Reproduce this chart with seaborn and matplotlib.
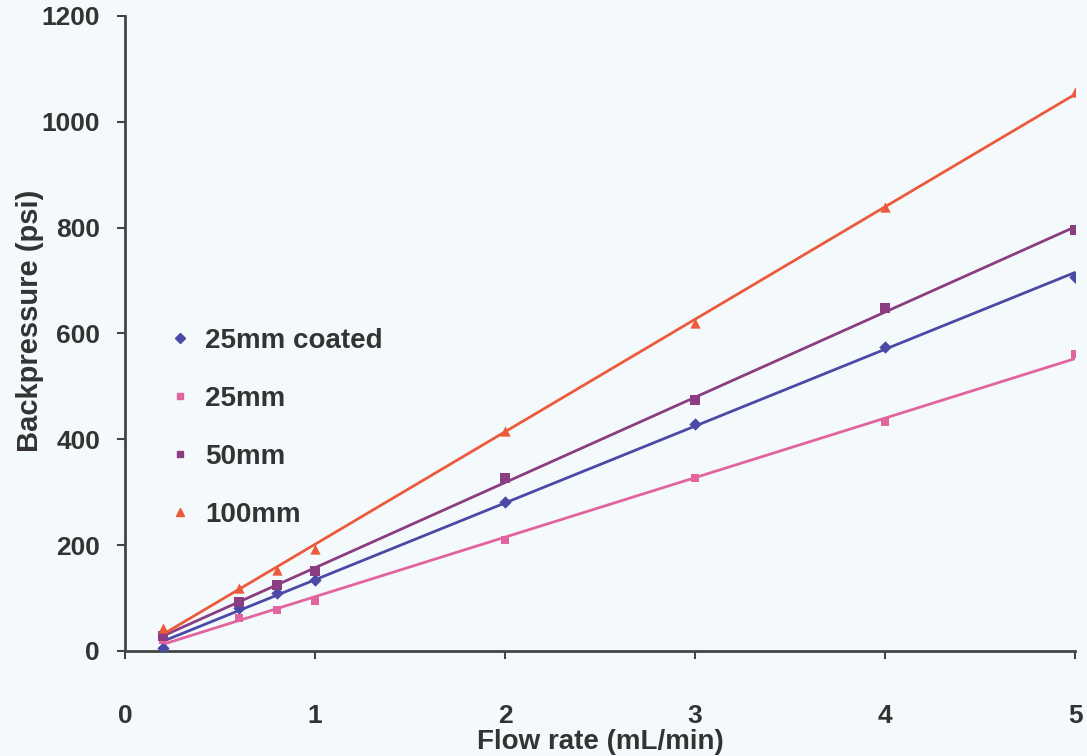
import numpy as np
import pandas as pd
import matplotlib
matplotlib.use("Agg")
import matplotlib.pyplot as plt
import seaborn as sns

flow = [0.2, 0.6, 0.8, 1, 2, 3, 4, 5]
coated25 = [6, 81, 110, 134, 282, 429, 575, 707]
mm25 = [21, 62, 78, 95, 210, 327, 433, 561]
mm50 = [28, 93, 125, 151, 327, 474, 648, 796]
mm100 = [43, 119, 153, 193, 416, 620, 839, 1057]

series = ["25mm coated", "25mm", "50mm", "100mm"]
values = [coated25, mm25, mm50, mm100]
colors = ["#4A4AA6", "#E2649E", "#8A3D80", "#EC5A3C"]
markers = ["D", "s", "s", "^"]
msizes = [40, 40, 55, 55]

sns.set_style("white")
plt.rcParams['font.family'] = ['Liberation Sans', 'DejaVu Sans']

bg = "#F4FAFB"
fig = plt.figure(figsize=(10.87, 7.56), dpi=100, facecolor=bg)
ax = fig.add_axes([0.115, 0.139, 0.874, 0.840], facecolor=bg)

handles = []
for name, vals, c, m, s in zip(series, values, colors, markers, msizes):
    df = pd.DataFrame({"x": flow, "y": vals})
    sns.regplot(data=df, x="x", y="y", scatter=False, ci=None, truncate=True,
                color=c, line_kws={"lw": 2.0}, ax=ax)
    sns.scatterplot(data=df, x="x", y="y", marker=m, s=s, color=c,
                    edgecolor=c, linewidth=0, ax=ax, zorder=3)
    handles.append(plt.Line2D([], [], ls="none", marker=m, color=c,
                              markersize=5 if m != "^" else 6, label=name))

ax.set_xlim(0, 5)
ax.set_ylim(0, 1200)
ax.set_xticks(range(0, 6))
ax.set_yticks(range(0, 1201, 200))
for sp in ["top", "right"]:
    ax.spines[sp].set_visible(False)
for sp in ["left", "bottom"]:
    ax.spines[sp].set_color("#444444")
    ax.spines[sp].set_linewidth(2)
ax.tick_params(axis="both", direction="out", length=6, width=1.5, color="#444444",
               labelsize=19, labelcolor="#333333", bottom=True, left=True)
ax.tick_params(axis="x", pad=32)
ax.tick_params(axis="y", pad=12)
for lab in ax.get_xticklabels() + ax.get_yticklabels():
    lab.set_fontweight("bold")

ax.set_xlabel("Flow rate (mL/min)", fontsize=20, fontweight="bold", color="#333333")
ax.set_ylabel("Backpressure (psi)", fontsize=21, fontweight="bold", color="#333333")
ax.xaxis.set_label_coords(0.5, -0.143, transform=ax.transAxes)
ax.yaxis.set_label_coords(-0.1, 0.52, transform=ax.transAxes)
ax.xaxis.label.set_va("center")
ax.yaxis.label.set_va("center")

leg = ax.legend(handles=handles, loc="upper left", bbox_to_anchor=(0.02, 0.548),
                frameon=False, fontsize=20, labelspacing=1.15, handletextpad=0.5,
                handlelength=0.8, labelcolor="#333333")
for t in leg.get_texts():
    t.set_fontweight("bold")

fig.savefig("out.png", dpi=100, facecolor=bg)
